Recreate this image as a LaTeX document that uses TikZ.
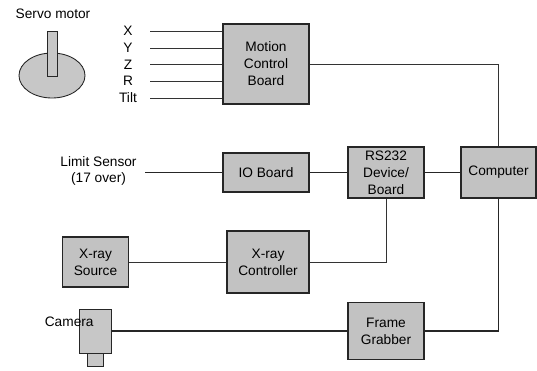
\documentclass[tikz,border=0pt]{standalone}
\usepackage{fontspec}
\setmainfont{Liberation Sans}
\usetikzlibrary{calc,positioning}

\begin{document}
\begin{tikzpicture}[
    x=0.02cm, y=-0.02cm,
    unit/.style={draw=black!85, line width=0.6pt, fill=black!24, align=center, inner sep=0pt,
        font=\fontsize{7.8}{9.7}\selectfont},
    part/.style={draw=black!85, line width=0.5pt, fill=black!22},
    wire/.style={line width=0.7pt, black!85},
    thinwire/.style={line width=0.45pt, black!80},
    caption/.style={inner sep=0pt, align=center, font=\fontsize{7.8}{9.3}\selectfont}
]
\useasboundingbox (0,0) rectangle (537,370);

% Boxes
\node[unit, minimum width=1.72cm, minimum height=1.6cm] (motion) at (266,64) {Motion\\Control\\Board};
\node[unit, minimum width=1.72cm, minimum height=0.78cm] (io) at (266,172.5) {IO Board};
\node[unit, minimum width=1.52cm, minimum height=1.02cm] (rs) at (386,172.5) {RS232\\Device/\\Board};
\node[unit, minimum width=1.5cm, minimum height=1.02cm] (computer) at (498.5,172.5) {Computer};
\node[unit, minimum width=1.32cm, minimum height=1.0cm] (source) at (95.5,262) {X-ray\\Source};
\node[unit, minimum width=1.64cm, minimum height=1.24cm] (controller) at (268,262) {X-ray\\Controller};
\node[unit, minimum width=1.52cm, minimum height=1.14cm] (grabber) at (386,331) {Frame\\Grabber};

% Servo motor
\node[caption] (servo) at (53,14) {Servo motor};
\draw[part] (52,75.5) ellipse [x radius=33, y radius=22.5];
\draw[part] (47,31) rectangle (57,76);

% Camera
\node[part, inner sep=0pt, minimum width=0.64cm, minimum height=0.88cm] (camera) at (95,331) {};
\node[part, inner sep=0pt, minimum width=0.32cm, minimum height=0.26cm, below=0pt of camera] (lens) {};
\node[caption, anchor=west] (cameralabel) at (44.5,322) {Camera};

% Motion axes
\foreach \name/\ypos in {X/31,Y/48,Z/64.5,R/81,Tilt/98} {
    \node[caption] (axis\name) at (128,\ypos) {\name};
    \coordinate (start\name) at (150,\ypos);
    \draw[thinwire] (start\name) -- (start\name -| motion.west);
}

% Limit sensor
\node[caption] (limit) at (98.5,171) {Limit Sensor\\(17 over)};
\coordinate (limitend) at (145,172.5);
\draw[wire] (limitend) -- (io.west);

% Connections
\draw[wire] (io) -- (rs);
\draw[wire] (rs) -- (computer);
\draw[thinwire] (source) -- (controller);
\draw[thinwire] (controller.east) -| (rs.south);
\draw[thinwire] (motion.east) -| (computer.north);
\draw[wire] (camera) -- (grabber);
\draw[wire] (grabber.east) -| (computer.south);

\end{tikzpicture}
\end{document}
